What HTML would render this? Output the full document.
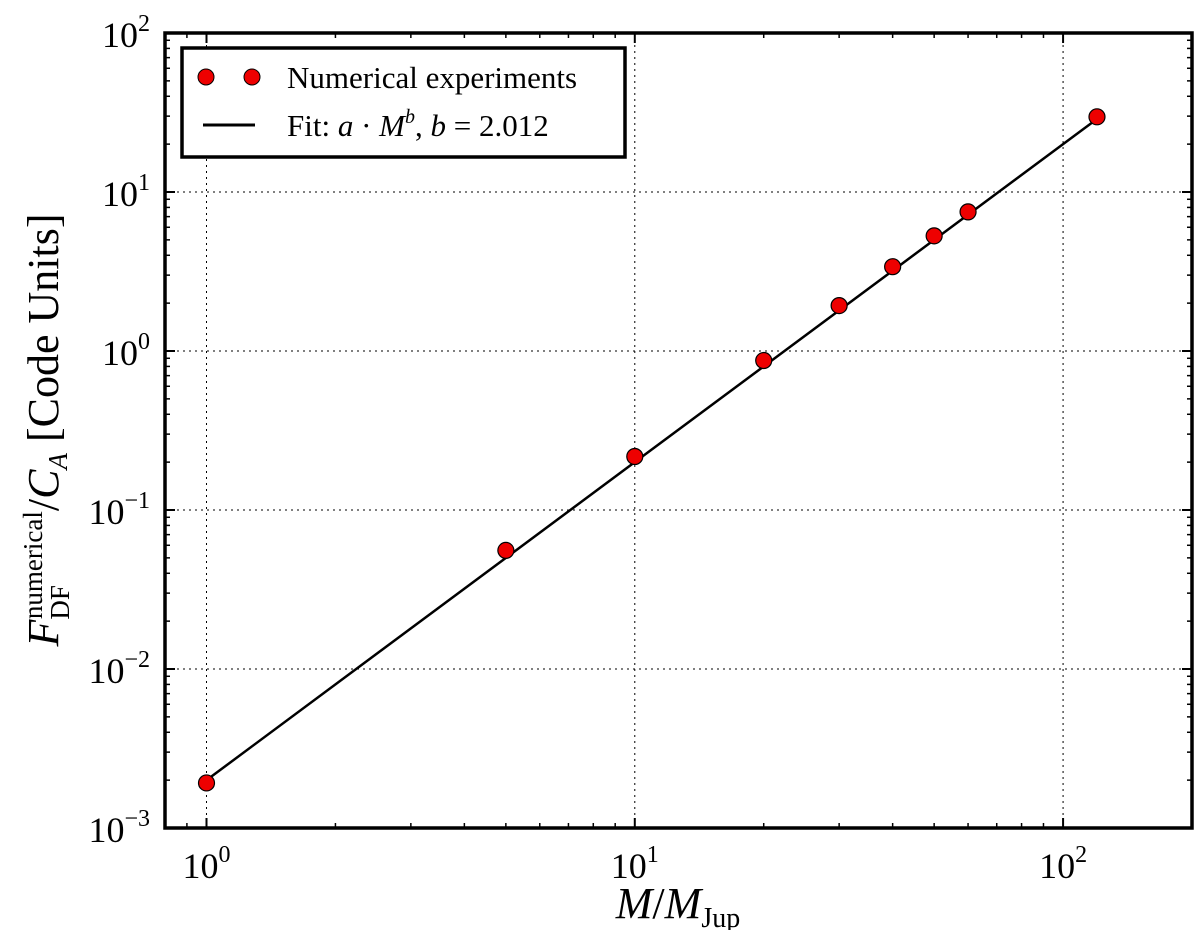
<!DOCTYPE html>
<html><head><meta charset="utf-8"><style>
body{margin:0;background:#fff;}
svg text{font-family:"Liberation Serif",serif;fill:#000;}
</style></head><body>
<svg id="chart" width="1200" height="930" viewBox="0 0 1200 930">
<g id="grid"></g>
<g id="ticks"></g>
<g id="series"></g>
<rect x="165" y="33" width="1027" height="795" fill="none" stroke="#000" stroke-width="3.5"/>
<g>
<rect x="182" y="48" width="443" height="109" fill="#fff" stroke="#000" stroke-width="3.5"/>
<circle cx="206" cy="77" r="8" fill="#e00" stroke="#000" stroke-width="1"/>
<circle cx="252" cy="77" r="8" fill="#e00" stroke="#000" stroke-width="1"/>
<text x="287" y="88" font-size="31">Numerical experiments</text>
<line x1="203" y1="125" x2="255" y2="125" stroke="#000" stroke-width="3"/>
<text x="287" y="136" font-size="31">Fit: <tspan font-style="italic">a</tspan> · <tspan font-style="italic">M</tspan><tspan font-style="italic" font-size="20" dy="-13">b</tspan><tspan dy="13">, </tspan><tspan font-style="italic">b</tspan> = 2.012</text>
</g>
<text x="678" y="918" font-size="44" text-anchor="middle"><tspan font-style="italic">M</tspan>/<tspan font-style="italic">M</tspan><tspan font-size="28" dy="9">Jup</tspan></text>
<text transform="translate(58,430) rotate(-90)" font-size="44" text-anchor="middle"><tspan font-style="italic">F</tspan><tspan font-size="27" dy="11">DF</tspan><tspan font-size="27" dx="-34" dy="-27">numerical</tspan><tspan dy="16">/</tspan><tspan font-style="italic">C</tspan><tspan font-style="italic" font-size="27" dy="9">A</tspan><tspan dy="-9"> [Code Units]</tspan></text>
</svg>
<script>
const massValues = [1, 5, 10, 20, 30, 40, 50, 60, 120];
const forceValues = [0.00192, 0.0557, 0.217, 0.871, 1.93, 3.39, 5.3, 7.5, 29.7];
const fitA = [0.00200];
const fitB = [2.0];
const xTickExps = [0, 1, 2];
const yTickExps = [-3, -2, -1, 0, 1, 2];

const L=165,R=1192,T=33,B=828;
const xMin=Math.log10(0.8),xMax=Math.log10(200),yMin=-3,yMax=2;
const xs=v=>L+(Math.log10(v)-xMin)/(xMax-xMin)*(R-L);
const ys=v=>B-(Math.log10(v)-yMin)/(yMax-yMin)*(B-T);
const NS='http://www.w3.org/2000/svg';
function mk(tag,attrs,parent){const e=document.createElementNS(NS,tag);for(const k in attrs)e.setAttribute(k,attrs[k]);parent.appendChild(e);return e;}
const grid=document.getElementById('grid'),ticks=document.getElementById('ticks'),series=document.getElementById('series');

xTickExps.forEach(e=>{
  const x=xs(Math.pow(10,e));
  const g=mk('line',{x1:x,y1:T,x2:x,y2:B,stroke:'#000','stroke-width':1,'stroke-dasharray':'2,4'},grid);
  
  
  const t=mk('text',{x:x,y:878,'font-size':36,'text-anchor':'middle'},ticks);
  
  
  t.innerHTML='10<tspan font-size="24" dy="-16">'+e+'</tspan>';
  [T,B].forEach((yy,i)=>{mk('line',{x1:x,y1:yy,x2:x,y2:yy+(i?-10:10),stroke:'#000','stroke-width':2},ticks);});
});
for(let e=-1;e<=2;e++)for(let m=2;m<=9;m++){const v=m*Math.pow(10,e);if(v<0.8||v>200)continue;const x=xs(v);
  mk('line',{x1:x,y1:T,x2:x,y2:T+5,stroke:'#000','stroke-width':1.5},ticks);mk('line',{x1:x,y1:B,x2:x,y2:B-5,stroke:'#000','stroke-width':1.5},ticks);}
yTickExps.forEach(e=>{
  const y=ys(Math.pow(10,e));
  if(e>yMin&&e<yMax){const g=mk('line',{x1:L,y1:y,x2:R,y2:y,stroke:'#000','stroke-width':1,'stroke-dasharray':'2,4'},grid);
  
  }
  const t=mk('text',{x:150,y:y+14,'font-size':36,'text-anchor':'end'},ticks);
  
  
  t.innerHTML='10<tspan font-size="24" dy="-16">'+(e<0?'−'+(-e):e)+'</tspan>';
  mk('line',{x1:L,y1:y,x2:L+10,y2:y,stroke:'#000','stroke-width':2},ticks);mk('line',{x1:R,y1:y,x2:R-10,y2:y,stroke:'#000','stroke-width':2},ticks);
});
for(let e=-3;e<2;e++)for(let m=2;m<=9;m++){const y=ys(m*Math.pow(10,e));
  mk('line',{x1:L,y1:y,x2:L+5,y2:y,stroke:'#000','stroke-width':1.5},ticks);mk('line',{x1:R,y1:y,x2:R-5,y2:y,stroke:'#000','stroke-width':1.5},ticks);}

const x0=massValues[0],x1=massValues[massValues.length-1];
const fit=mk('line',{x1:xs(x0),y1:ys(fitA[0]*Math.pow(x0,fitB[0])),x2:xs(x1),y2:ys(fitA[0]*Math.pow(x1,fitB[0])),stroke:'#000','stroke-width':2.5},series);


massValues.forEach((m,i)=>{
  const c=mk('circle',{cx:xs(m),cy:ys(forceValues[i]),r:8,fill:'#e00',stroke:'#000','stroke-width':1.2},series);
  
  
});
</script>
</body></html>
